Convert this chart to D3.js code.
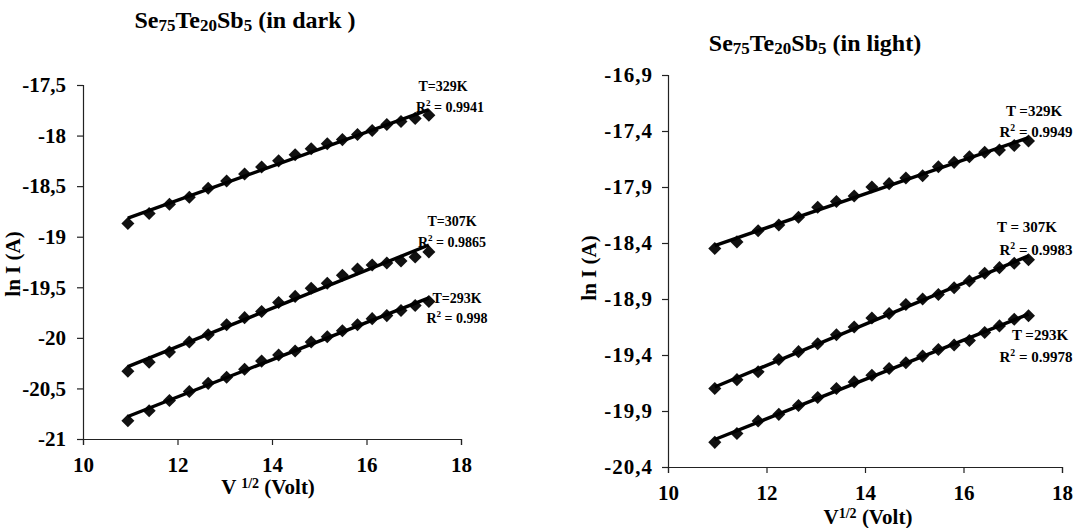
<!DOCTYPE html>
<html>
<head>
<meta charset="utf-8">
<script src="https://cdn.jsdelivr.net/npm/d3@7"></script>
<style>
  html, body { margin: 0; padding: 0; background: #fff; }
</style>
</head>
<body>
<svg id="chart" width="1088" height="528" font-family="'Liberation Serif', 'Times New Roman', Times, serif" font-weight="bold"></svg>
<script>
// ---- data ----
const xVals = [10.95, 11.40, 11.83, 12.25, 12.65, 13.04, 13.42, 13.78, 14.14, 14.49, 14.83, 15.17, 15.49, 15.81, 16.12, 16.43, 16.73, 17.03, 17.32];

const darkT329 = [-18.87, -18.77, -18.68, -18.61, -18.52, -18.45, -18.38, -18.31, -18.25, -18.19, -18.13, -18.08, -18.04, -17.99, -17.95, -17.89, -17.86, -17.83, -17.80];
const darkT307 = [-20.33, -20.24, -20.14, -20.04, -19.97, -19.87, -19.80, -19.74, -19.65, -19.59, -19.51, -19.46, -19.38, -19.32, -19.28, -19.26, -19.24, -19.20, -19.15];
const darkT293 = [-20.82, -20.72, -20.62, -20.53, -20.45, -20.39, -20.31, -20.23, -20.17, -20.13, -20.04, -19.99, -19.93, -19.87, -19.81, -19.78, -19.73, -19.68, -19.64];

const lightT329 = [-18.45, -18.39, -18.29, -18.24, -18.17, -18.08, -18.03, -17.98, -17.90, -17.87, -17.82, -17.80, -17.72, -17.68, -17.63, -17.59, -17.57, -17.53, -17.49];
const lightT307 = [-19.70, -19.62, -19.55, -19.44, -19.37, -19.30, -19.22, -19.15, -19.07, -19.03, -18.95, -18.90, -18.86, -18.80, -18.74, -18.67, -18.62, -18.58, -18.55];
const lightT293 = [-20.18, -20.10, -19.99, -19.93, -19.85, -19.78, -19.70, -19.64, -19.58, -19.52, -19.47, -19.41, -19.35, -19.31, -19.27, -19.20, -19.14, -19.08, -19.05];

const xTicks = [10, 12, 14, 16, 18];
const darkYTicks = [-17.5, -18, -18.5, -19, -19.5, -20, -20.5, -21];
const lightYTicks = [-16.9, -17.4, -17.9, -18.4, -18.9, -19.4, -19.9, -20.4];

const darkLabels = [["T=329K", "0.9941"], ["T=307K", "0.9865"], ["T=293K", "0.998"]];
const lightLabels = [["T =329K", "0.9949"], ["T = 307K", "0.9983"], ["T =293K", "0.9978"]];

// ---- layout ----
const FONT = "'Liberation Serif', 'Times New Roman', Times, serif";
const svg = d3.select("#chart");
svg.append("rect").attr("width", 1088).attr("height", 528).attr("fill", "#fff");

const fmt = v => String(+v.toFixed(1)).replace(".", ",");

function regression(xs, ys) {
  const mx = d3.mean(xs), my = d3.mean(ys);
  let sxy = 0, sxx = 0;
  xs.forEach((x, i) => { sxy += (x - mx) * (ys[i] - my); sxx += (x - mx) * (x - mx); });
  const b = sxy / sxx, a = my - b * mx;
  return x => a + b * x;
}

function txt(sel) {
  return sel.attr("font-family", FONT).attr("font-weight", "bold").attr("fill", "#000");
}

function panel(cfg) {
  const x = d3.scaleLinear().domain([10, 18]).range(cfg.xr);
  const y = d3.scaleLinear().domain([cfg.yTicks[cfg.yTicks.length - 1], cfg.yTicks[0]]).range(cfg.yr);
  const g = svg.append("g");

  const ya = g.append("g").attr("transform", `translate(${cfg.xr[0]},0)`)
    .call(d3.axisLeft(y).tickValues(cfg.yTicks).tickFormat(fmt).tickSize(6).tickPadding(cfg.yPad));
  const xa = g.append("g").attr("transform", `translate(0,${cfg.yr[0]})`)
    .call(d3.axisBottom(x).tickValues(xTicks).tickFormat(d3.format("d")).tickSize(6).tickPadding(cfg.xPad));
  [ya, xa].forEach(a => {
    a.attr("font-family", FONT).attr("font-weight", "bold").attr("font-size", cfg.tickFont);
    a.select(".domain").attr("stroke", "#222").attr("stroke-width", 1.2);
    a.selectAll(".tick line").attr("stroke", "#222").attr("stroke-width", 1.2);
    txt(a.selectAll("text")).attr("font-size", cfg.tickFont);
  });
  ya.selectAll("text").attr("letter-spacing", cfg.ySpacing);

  const sym = d3.symbol().type(d3.symbolSquare).size(85);
  cfg.series.forEach((ys, si) => {
    const f = regression(xVals, ys);
    const x0 = d3.min(xVals), x1 = d3.max(xVals);
    g.selectAll(null).data(xVals).join("path")
      .attr("d", sym)
      .attr("transform", (d, i) => `translate(${x(d)},${y(ys[i])}) rotate(45)`)
      .attr("fill", "#111");
    g.append("line")
      .attr("x1", x(x0)).attr("y1", y(f(x0)))
      .attr("x2", x(x1)).attr("y2", y(f(x1)))
      .attr("stroke", "#000").attr("stroke-width", 3.4);

    const lp = cfg.labelPos[si];
    const lab = cfg.labels[si];
    txt(g.append("text")).attr("x", lp[0]).attr("y", lp[1]).attr("text-anchor", "middle")
      .attr("font-size", cfg.labFont).text(lab[0]);
    const r = txt(g.append("text")).attr("x", lp[2]).attr("y", lp[3]).attr("text-anchor", "middle")
      .attr("font-size", cfg.labFont);
    r.append("tspan").text("R");
    r.append("tspan").attr("dy", -6).attr("font-size", cfg.labFont * 0.65).text("2");
    r.append("tspan").attr("dy", 6).text(" = " + lab[1]);
  });

  // title
  const t = txt(svg.append("text")).attr("x", cfg.title[0]).attr("y", cfg.title[1]).attr("text-anchor", "middle")
    .attr("font-size", 24);
  const parts = [["Se", false], ["75", true], ["Te", false], ["20", true], ["Sb", false], ["5", true], [cfg.titleTail, false]];
  let sub = false;
  parts.forEach(([s, isSub]) => {
    const ts = t.append("tspan").text(s);
    if (isSub) ts.attr("font-size", 17);
    if (isSub !== sub) { ts.attr("dy", isSub ? 3 : -3); sub = isSub; }
  });

  // axis titles
  txt(svg.append("text")).attr("transform", `translate(${cfg.yTitle[0]},${cfg.yTitle[1]}) rotate(-90)`)
    .attr("text-anchor", "middle").attr("font-size", 21).text("ln I (A)");
  const xl = txt(svg.append("text")).attr("x", cfg.xTitle[0]).attr("y", cfg.xTitle[1]).attr("text-anchor", "middle")
    .attr("font-size", 21);
  xl.append("tspan").text(cfg.xTitleGap ? "V " : "V");
  xl.append("tspan").attr("dy", -6).attr("font-size", 14).text("1/2");
  xl.append("tspan").attr("dy", 6).text(" (Volt)");
}

panel({
  xr: [83, 461], yr: [439, 85], yTicks: darkYTicks, yPad: 11, xPad: 12, tickFont: 21, ySpacing: 0, labFont: 14,
  series: [darkT329, darkT307, darkT293], labels: darkLabels,
  labelPos: [[443, 91, 450, 112], [452, 226, 452, 247], [457, 303, 457, 323]],
  title: [245, 28], titleTail: " (in dark )",
  yTitle: [20, 264], xTitle: [268, 494], xTitleGap: true
});

panel({
  xr: [668, 1062], yr: [467, 75], yTicks: lightYTicks, yPad: 9, xPad: 12, tickFont: 21, ySpacing: 1, labFont: 15,
  series: [lightT329, lightT307, lightT293], labels: lightLabels,
  labelPos: [[1034, 116, 1036, 137], [1027, 232, 1036, 255], [1040, 340, 1036, 362]],
  title: [815, 51], titleTail: " (in light)",
  yTitle: [596, 268], xTitle: [868, 524], xTitleGap: false
});
</script>
</body>
</html>
